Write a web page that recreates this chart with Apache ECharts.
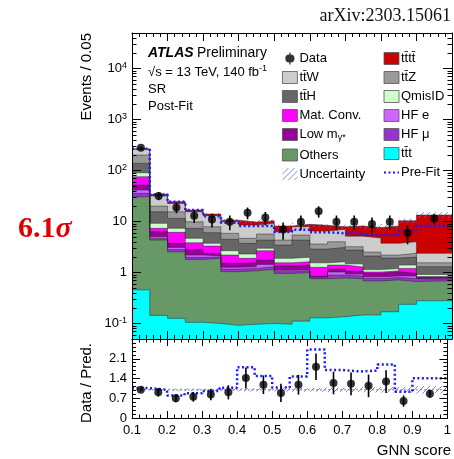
<!DOCTYPE html>
<html>
<head>
<meta charset="utf-8">
<script src="https://cdn.jsdelivr.net/npm/echarts@6/dist/echarts.min.js"></script>
<style>
  html, body { margin: 0; padding: 0; background: #fff; }
  #chart { width: 454px; height: 459px; }
</style>
</head>
<body>
<div id="chart"></div>
<script>
// bin edges of the GNN score histogram (last bin is 0.9 - 1.0)
const binEdges = [0.1, 0.15, 0.2, 0.25, 0.3, 0.35, 0.4, 0.45, 0.5, 0.55, 0.6, 0.65, 0.7, 0.75, 0.8, 0.85, 0.9, 1.0];
const binCenters = [0.125, 0.175, 0.225, 0.275, 0.325, 0.375, 0.425, 0.475, 0.525, 0.575, 0.625, 0.675, 0.725, 0.775, 0.825, 0.875, 0.95];

// post-fit background components, events / 0.05 (stacked bottom -> top)
const tttBkg  = [0.46, 0.145, 0.127, 0.106, 0.101, 0.0925, 0.097, 0.101, 0.097, 0.112, 0.13, 0.137, 0.148, 0.148, 0.171, 0.239, 0.281];
const others  = [30.3, 4.2, 2.44, 1.71, 1.81, 0.95, 0.99, 1.06, 0.87, 0.89, 0.63, 0.65, 0.61, 0.54, 0.55, 0.43, 0.41];
const hfMu    = [5.1, 0.35, 0.28, 0.18, 0.12, 0.13, 0.12, 0.15, 0.08, 0.07, 0.04, 0.11, 0.1, 0.08, 0.08, 0.1, 0.04];
const hfE     = [5.8, 0.36, 0.28, 0.21, 0.1, 0.1, 0.1, 0.14, 0.07, 0.05, 0.03, 0.13, 0.08, 0.06, 0.06, 0.09, 0.04];
const lowMg   = [10.5, 1.28, 0.63, 0.65, 0.25, 0.25, 0.25, 0.32, 0.23, 0.29, 0.02, 0.15, 0.13, 0.14, 0.18, 0.11, 0.05];
const matConv = [23.7, 1.05, 2.41, 1.0, 0.94, 0.69, 0.35, 0.92, 0.21, 0.23, 0.42, 0.23, 0.22, 0.06, 0.04, 0.24, 0.01];
const qmisId  = [15, 1.88, 1.22, 0.85, 0.44, 0.48, 0.41, 0.31, 0.35, 0.36, 0.29, 0.23, 0.2, 0.12, 0.12, 0.2, 0.09];
const ttH     = [48, 6.3, 4.2, 2.68, 2.3, 1.81, 1.44, 1.35, 1.57, 2.35, 1.34, 1.49, 1.28, 0.97, 0.73, 0.61, 0.39];
const ttZ     = [63, 4.6, 4.0, 2.56, 1.88, 1.4, 0.95, 1.36, 0.87, 1.11, 0.74, 0.9, 0.45, 0.41, 0.28, 0.37, 0.25];
const ttW     = [60, 11.6, 7.2, 5.65, 5.16, 4.05, 3.87, 3.56, 1.99, 2.48, 2.9, 3.03, 1.98, 2.24, 1.55, 1.64, 0.83];
const tttt    = [6, 2.5, 1.8, 1.3, 1.0, 0.75, 1.24, 1.13, 1.86, 0.91, 1.92, 0.88, 3.0, 2.93, 4.44, 6.37, 11.1];

// relative uncertainty (half width) of the prediction
const uncRel = [0.03, 0.04, 0.05, 0.05, 0.05, 0.05, 0.06, 0.06, 0.06, 0.07, 0.07, 0.08, 0.08, 0.09, 0.1, 0.1, 0.13];

// pre-fit total prediction
const preFit = [269, 34, 24.6, 16.9, 12.8, 9.5, 8.2, 8.2, 6.3, 6.9, 6.2, 5.9, 6.0, 5.46, 5.46, 6.6, 8.3];

// data
const dataVals = [281, 32, 19, 13, 11, 10, 15, 12, 7, 10, 16, 10, 10, 9, 10, 6, 11.5];
const dataErrs = [17, 5.7, 4.4, 3.6, 3.3, 3.2, 3.9, 3.5, 2.6, 3.2, 4.0, 3.2, 3.2, 3.0, 3.2, 2.4, 2.4];

// ratio panel
const ratioVals   = [1.0, 0.91, 0.70, 0.75, 0.83, 0.91, 1.42, 1.18, 0.89, 1.18, 1.82, 1.24, 1.21, 1.14, 1.29, 0.60, 0.86];
const ratioErrs   = [0.05, 0.15, 0.14, 0.17, 0.2, 0.25, 0.37, 0.33, 0.32, 0.35, 0.47, 0.4, 0.4, 0.4, 0.4, 0.2, 0.14];
const ratioPreFit = [1.06, 1.0, 0.80, 0.88, 0.96, 1.07, 1.80, 1.49, 1.08, 1.47, 2.43, 1.70, 1.65, 1.68, 1.90, 0.93, 1.41];

const FONT = '"Liberation Sans", Arial, Helvetica, sans-serif';
const SERIF = '"Liberation Serif", "Times New Roman", serif';

// hatch pattern for the uncertainty bands
function makeHatch(color) {
  const c = document.createElement('canvas');
  c.width = 6; c.height = 6;
  const g = c.getContext('2d');
  g.strokeStyle = color;
  g.lineWidth = 1;
  g.beginPath();
  g.moveTo(0, 6); g.lineTo(6, 0);
  g.moveTo(-1, 1); g.lineTo(1, -1);
  g.moveTo(5, 7); g.lineTo(7, 5);
  g.stroke();
  return { image: c, repeat: 'repeat' };
}
const hatch = makeHatch('rgba(100, 100, 235, 0.8)');

// histogram values -> points at bin edges (last value repeated at the right edge)
const stepData = (vals) => binEdges.map((e, i) => [e, vals[Math.min(i, vals.length - 1)]]);

const components = [
  { name: 'tt̄t', vals: tttBkg, color: '#00ffff' },
  { name: 'Others', vals: others, color: '#669966' },
  { name: 'HF μ', vals: hfMu, color: '#9933cc' },
  { name: 'HF e', vals: hfE, color: '#cc66ff' },
  { name: 'Low mγ*', vals: lowMg, color: '#990099' },
  { name: 'Mat. Conv.', vals: matConv, color: '#ff00ff' },
  { name: 'QmisID', vals: qmisId, color: '#ccffcc' },
  { name: 'tt̄H', vals: ttH, color: '#666666' },
  { name: 'tt̄Z', vals: ttZ, color: '#999999' },
  { name: 'tt̄W', vals: ttW, color: '#cccccc' },
  { name: 'tt̄tt̄', vals: tttt, color: '#cc0000' },
];

// cumulative tops of the stack, THStack style: biggest drawn first, smaller ones painted over it
let running = binCenters.map(() => 0);
const stackSeries = components.map((c) => {
  running = running.map((s, i) => s + c.vals[i]);
  return {
    name: c.name,
    type: 'line',
    xAxisIndex: 0,
    yAxisIndex: 0,
    step: 'end',
    symbol: 'none',
    data: stepData(running),
    itemStyle: { color: c.color },
    lineStyle: { color: 'rgba(30,30,30,0.65)', width: 0.7 },
    areaStyle: { color: c.color, opacity: 1, origin: 'start' },
  };
}).reverse();
const total = running;

// hatched band: one rect per bin
const band = (name, xIdx, yIdx, lo, hi) => ({
  name,
  type: 'custom',
  xAxisIndex: xIdx,
  yAxisIndex: yIdx,
  silent: true,
  z: 3,
  itemStyle: { color: hatch },
  encode: { x: [0, 1], y: [2, 3] },
  data: binCenters.map((_, i) => [binEdges[i], binEdges[i + 1], lo[i], hi[i]]),
  renderItem: (params, api) => {
    const p0 = api.coord([api.value(0), api.value(3)]);
    const p1 = api.coord([api.value(1), api.value(2)]);
    return {
      type: 'rect',
      shape: { x: p0[0], y: p0[1], width: p1[0] - p0[0], height: p1[1] - p0[1] },
      style: { fill: hatch },
    };
  },
});

// error bars
const errBar = (xIdx, yIdx, lo, hi) => ({
  type: 'custom',
  xAxisIndex: xIdx,
  yAxisIndex: yIdx,
  silent: true,
  z: 5,
  encode: { x: 0, y: [1, 2] },
  data: binCenters.map((x, i) => [x, lo[i], hi[i]]),
  renderItem: (params, api) => {
    const p1 = api.coord([api.value(0), api.value(1)]);
    const p2 = api.coord([api.value(0), api.value(2)]);
    return {
      type: 'line',
      shape: { x1: p1[0], y1: p1[1], x2: p2[0], y2: p2[1] },
      style: { stroke: '#000', lineWidth: 1.6 },
    };
  },
});

const tickCol = { color: '#000', width: 1 };

const logLabel = (v) => {
  const e = Math.round(Math.log10(v));
  if (e === 0) return '1';
  if (e === 1) return '10';
  return '{b|10}{s|' + (e < 0 ? '-' : '') + Math.abs(e) + '}';
};

const frameX = (grid, pos, labels) => ({
  type: 'value',
  gridIndex: grid,
  position: pos,
  min: 0.1,
  max: 1.0,
  interval: 0.1,
  z: 10,
  axisLine: { show: true, onZero: false, lineStyle: tickCol },
  axisTick: { inside: true, length: grid === 0 ? 8 : 7, lineStyle: tickCol },
  minorTick: { show: true, splitNumber: 5, length: grid === 0 ? 4 : 3.5, lineStyle: tickCol },
  splitLine: { show: false },
  axisLabel: {
    show: labels,
    margin: 6,
    color: '#000',
    fontSize: 13,
    fontFamily: FONT,
    formatter: (v) => (Math.abs(v - 1) < 1e-6 ? '1' : v.toFixed(1)),
  },
});

const logY = (pos, labels) => ({
  type: 'log',
  gridIndex: 0,
  position: pos,
  logBase: 10,
  min: 0.05,
  max: 50000,
  z: 10,
  axisLine: { show: true, lineStyle: tickCol },
  axisTick: { inside: true, length: 9, lineStyle: tickCol },
  minorTick: { show: true, splitNumber: 9, length: 4.5, lineStyle: tickCol },
  splitLine: { show: false },
  axisLabel: {
    show: labels,
    showMinLabel: false,
    showMaxLabel: false,
    margin: 5,
    color: '#000',
    fontSize: 13,
    fontFamily: FONT,
    formatter: logLabel,
    rich: {
      b: { fontSize: 13, fontFamily: FONT, color: '#000' },
      s: { fontSize: 9, fontFamily: FONT, color: '#000', verticalAlign: 'top', padding: [0, 0, 6, 0] },
    },
  },
});

const ratioY = (pos, labels) => ({
  type: 'value',
  gridIndex: 1,
  position: pos,
  min: 0,
  max: 2.8,
  interval: 0.7,
  z: 10,
  axisLine: { show: true, lineStyle: tickCol },
  axisTick: { inside: true, length: 8, lineStyle: tickCol },
  minorTick: { show: true, splitNumber: 5, length: 4, lineStyle: tickCol },
  splitLine: { show: false },
  axisLabel: {
    show: labels,
    showMaxLabel: false,
    margin: 5,
    color: '#000',
    fontSize: 13,
    fontFamily: FONT,
    formatter: (v) => (v === 0 ? '0' : v.toFixed(1)),
  },
});

const boxItem = (name) => ({ name, icon: 'rect', itemStyle: { borderColor: '#555', borderWidth: 0.8 } });

const legendBase = {
  orient: 'vertical',
  top: 47,
  itemWidth: 15,
  itemHeight: 12,
  itemGap: 6,
  selectedMode: false,
  textStyle: {
    fontSize: 13,
    fontFamily: FONT,
    color: '#000',
    padding: [0, 0, 0, -3],
    rich: {
      sub: { fontSize: 9, fontFamily: FONT, color: '#000', verticalAlign: 'bottom', padding: [7, 0, 0, 0] },
    },
  },
  formatter: (n) => (n === 'Low mγ*' ? 'Low m{sub|γ*}' : n),
};

const option = {
  animation: false,
  backgroundColor: '#fff',
  textStyle: { fontFamily: FONT },
  grid: [
    { left: 132, top: 33, width: 320, height: 306 },
    { left: 132, top: 339, width: 320, height: 79 },
  ],
  xAxis: [
    frameX(0, 'bottom', false),
    frameX(0, 'top', false),
    frameX(1, 'bottom', true),
    frameX(1, 'top', false),
  ],
  yAxis: [
    logY('left', true),
    logY('right', false),
    ratioY('left', true),
    ratioY('right', false),
  ],
  legend: [
    Object.assign({}, legendBase, {
      left: 277,
      data: [
        { name: 'Data', icon: 'path://M3.4,0 L4.6,0 L4.6,2 A4,4 0 0,1 4.6,10 L4.6,12 L3.4,12 L3.4,10 A4,4 0 0,1 3.4,2 Z' },
        boxItem('tt̄W'),
        boxItem('tt̄H'),
        boxItem('Mat. Conv.'),
        boxItem('Low mγ*'),
        boxItem('Others'),
        { name: 'Uncertainty', icon: 'rect' },
      ],
    }),
    Object.assign({}, legendBase, {
      left: 378,
      data: [
        boxItem('tt̄tt̄'),
        boxItem('tt̄Z'),
        boxItem('QmisID'),
        boxItem('HF e'),
        boxItem('HF μ'),
        boxItem('tt̄t'),
        { name: 'Pre-Fit', itemStyle: { opacity: 0 } },
      ],
    }),
  ],
  series: [
    ...stackSeries,
    band('Uncertainty', 0, 0, total.map((t, i) => t * (1 - uncRel[i])), total.map((t, i) => t * (1 + uncRel[i]))),
    {
      name: 'Pre-Fit',
      type: 'line',
      step: 'end',
      symbol: 'none',
      z: 4,
      data: stepData(preFit),
      itemStyle: { color: '#1a1aff' },
      lineStyle: { color: '#1a1aff', width: 2.5, type: [2, 2.5] },
    },
    errBar(0, 0, dataVals.map((v, i) => v - dataErrs[i]), dataVals.map((v, i) => v + dataErrs[i])),
    {
      name: 'Data',
      type: 'scatter',
      symbol: 'circle',
      symbolSize: 8,
      symbolKeepAspect: true,
      z: 6,
      data: binCenters.map((x, i) => [x, dataVals[i]]),
      itemStyle: { color: '#000' },
    },

    // ratio panel
    band('ratioBand', 2, 2, uncRel.map((u) => 1 - u), uncRel.map((u) => 1 + u)),
    {
      name: 'unity',
      type: 'line',
      xAxisIndex: 2,
      yAxisIndex: 2,
      symbol: 'none',
      silent: true,
      z: 3,
      data: [[0.1, 1], [1.0, 1]],
      lineStyle: { color: '#8080b0', width: 1, type: [2, 2] },
    },
    {
      name: 'ratioPreFit',
      type: 'line',
      xAxisIndex: 2,
      yAxisIndex: 2,
      step: 'end',
      symbol: 'none',
      silent: true,
      z: 4,
      data: stepData(ratioPreFit),
      lineStyle: { color: '#1a1aff', width: 2.5, type: [2, 2.5] },
    },
    errBar(2, 2, ratioVals.map((v, i) => v - ratioErrs[i]), ratioVals.map((v, i) => v + ratioErrs[i])),
    {
      name: 'ratioData',
      type: 'scatter',
      xAxisIndex: 2,
      yAxisIndex: 2,
      symbol: 'circle',
      symbolSize: 8,
      silent: true,
      z: 6,
      data: binCenters.map((x, i) => [x, ratioVals[i]]),
      itemStyle: { color: '#000' },
    },
  ],
  graphic: [
    {
      type: 'text', x: 87, y: 33, rotation: Math.PI / 2,
      style: { text: 'Events / 0.05', font: '15px ' + FONT, fill: '#000', align: 'right', verticalAlign: 'middle' },
    },
    {
      type: 'text', x: 87, y: 383, rotation: Math.PI / 2,
      style: { text: 'Data / Pred.', font: '15px ' + FONT, fill: '#000', align: 'center', verticalAlign: 'middle' },
    },
    {
      type: 'text', x: 451, y: 451,
      style: { text: 'GNN score', font: '15px ' + FONT, fill: '#000', align: 'right', verticalAlign: 'middle' },
    },
    {
      type: 'text', x: 451, y: 16,
      style: { text: 'arXiv:2303.15061', font: '18px ' + SERIF, fill: '#111', align: 'right', verticalAlign: 'middle' },
    },
    {
      type: 'text', x: 18, y: 229,
      style: {
        text: '{a|6.1}{b|σ}',
        align: 'left',
        verticalAlign: 'middle',
        rich: {
          a: { font: 'bold 30px ' + SERIF, fill: '#e00000' },
          b: { font: 'italic bold 30px ' + SERIF, fill: '#e00000' },
        },
      },
    },
    {
      type: 'text', x: 148, y: 53,
      style: {
        text: '{a|ATLAS} {b|Preliminary}',
        align: 'left',
        verticalAlign: 'middle',
        rich: {
          a: { font: 'italic bold 14px ' + FONT, fill: '#000' },
          b: { font: '14px ' + FONT, fill: '#000' },
        },
      },
    },
    {
      type: 'text', x: 148, y: 72,
      style: {
        text: '{a|√s = 13 TeV, 140 fb}{s|-1}',
        align: 'left',
        verticalAlign: 'middle',
        rich: {
          a: { font: '13px ' + FONT, fill: '#000' },
          s: { font: '9px ' + FONT, fill: '#000', verticalAlign: 'top', padding: [0, 0, 6, 0] },
        },
      },
    },
    {
      type: 'text', x: 148, y: 89,
      style: { text: 'SR', font: '13px ' + FONT, fill: '#000', align: 'left', verticalAlign: 'middle' },
    },
    {
      type: 'text', x: 148, y: 106,
      style: { text: 'Post-Fit', font: '13px ' + FONT, fill: '#000', align: 'left', verticalAlign: 'middle' },
    },
  ],
};

const chart = echarts.init(document.getElementById('chart'), null, { renderer: 'canvas' });
chart.setOption(option);
</script>
</body>
</html>
